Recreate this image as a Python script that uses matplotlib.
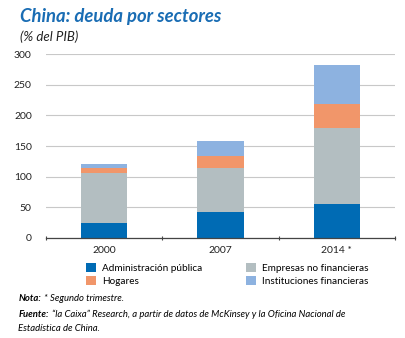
import numpy as np
import matplotlib.pyplot as plt

plt.rcParams['font.family'] = ['Lato', 'DejaVu Sans']

years = ["2000", "2007", "2014 *"]
admin_publica = [23.5, 41.5, 55]
empresas = [82, 72, 125]
hogares = [8.5, 20, 38]
instituciones = [6.5, 24, 65]

series = [
    ("Administración pública", admin_publica, "#006bb4"),
    ("Empresas no financieras", empresas, "#b3bec1"),
    ("Hogares", hogares, "#f1966a"),
    ("Instituciones financieras", instituciones, "#8db2e0"),
]

fig = plt.figure(figsize=(4.06, 3.38), dpi=100)
ax = fig.add_axes([0.1125, 0.2967, 0.8605, 0.5426])

x = np.arange(len(years))
bottom = np.zeros(len(years))
handles = {}
for name, vals, color in series:
    h = ax.bar(x, vals, width=0.4, bottom=bottom, color=color, zorder=3)
    handles[name] = h
    bottom += np.array(vals)

ax.set_xlim(-0.5, 2.5)
ax.set_ylim(0, 300)
ax.set_yticks(range(0, 301, 50))
ax.yaxis.grid(True, color="#c8c8c8", linewidth=0.8, zorder=0)
ax.tick_params(axis="y", length=0, labelsize=7.5, pad=10, colors="#222222")
ax.set_xticks(x)
ax.set_xticklabels(years)
ax.tick_params(axis="x", length=0, labelsize=7.5, pad=6, colors="#222222")
# small separators between categories on the base line
ax.set_xticks([-0.5, 0.5, 1.5, 2.5], minor=True)
ax.tick_params(axis="x", which="minor", length=3, width=0.8, direction="inout", color="#444444")
for s in ["top", "right", "left"]:
    ax.spines[s].set_visible(False)
ax.spines["bottom"].set_color("#444444")
ax.spines["bottom"].set_linewidth(0.9)
ax.spines["bottom"].set_zorder(4)

order = ["Administración pública", "Hogares", "Empresas no financieras", "Instituciones financieras"]
fig.legend([handles[n] for n in order], order, ncol=2, loc="upper left",
           bbox_to_anchor=(0.213, 0.222), frameon=False, fontsize=7.2,
           handlelength=1.0, handleheight=1.0, handletextpad=0.6,
           columnspacing=4.3, labelspacing=0.3, borderaxespad=0, borderpad=0)

fig.text(0.05, 0.935, "China: deuda por sectores", fontsize=13.3, fontweight="bold",
         fontstyle="italic", color="#1a6db4")
fig.text(0.05, 0.88, "(% del PIB)", fontsize=9.5, fontstyle="italic", color="#222222")

renderer = fig.canvas.get_renderer()


def note(y, head, body):
    t = fig.text(0.045, y, head, fontsize=6.8, fontweight="bold", fontstyle="italic")
    w = t.get_window_extent(renderer).width / fig.bbox.width
    fig.text(0.045 + w + 0.008, y, body, fontsize=6.8, fontstyle="italic")


note(0.110, "Nota:", "* Segundo trimestre.")
note(0.063, "Fuente:", "\u201cla Caixa\u201d Research, a partir de datos de McKinsey y la Oficina Nacional de")
fig.text(0.045, 0.020, "Estadística de China.", fontsize=6.8, fontstyle="italic")

fig.savefig("out.png", dpi=100)
